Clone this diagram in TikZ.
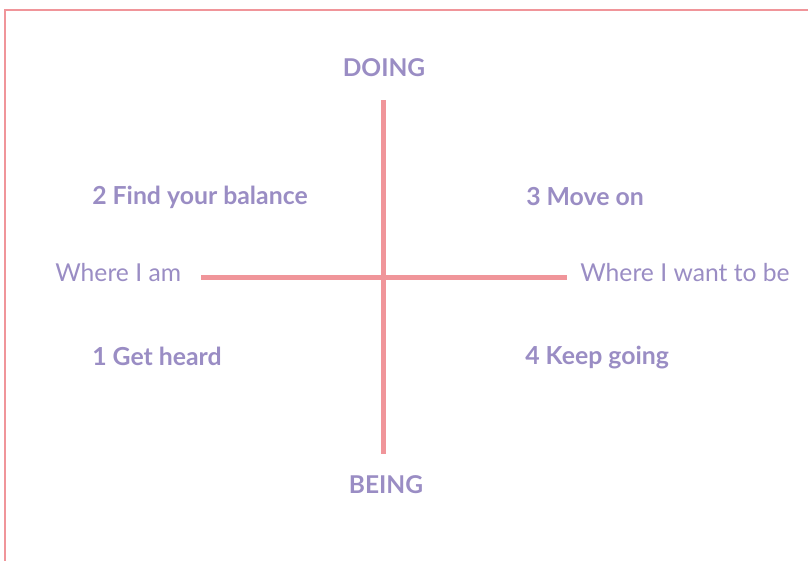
\documentclass[tikz,border=0pt]{standalone}
\usepackage{fontspec}
\setmainfont{Lato}
\definecolor{axispink}{HTML}{F0959A}
\definecolor{labelpurple}{HTML}{9A8DC4}
\begin{document}
\begin{tikzpicture}[x=0.75pt,y=-0.75pt,
  axis/.style={draw=axispink,line width=3.8pt},
  frame/.style={draw=axispink,line width=1.8pt},
  quad/.style={text=labelpurple,font=\fontsize{18.6}{20}\selectfont\bfseries,anchor=west,inner sep=0pt},
  pole/.style={text=labelpurple,font=\fontsize{18.4}{20}\selectfont\bfseries,inner sep=0pt},
  side/.style={text=labelpurple,font=\fontsize{18.5}{20}\selectfont,inner sep=0pt}]
\useasboundingbox (0,0) rectangle (808,561);
% open frame along the top and left edges
\draw[frame] (5,561) -- (5,10) -- (810,10);
% axis end points
\coordinate (top) at (383.5,100);
\coordinate (bottom) at (383.5,454);
\coordinate (left) at (201,277.5);
\coordinate (right) at (567,277.5);
\draw[axis] (top) -- (bottom);
\draw[axis] (left) -- (right);
% pole labels
\node[pole] (doing) at (384,68) {DOING};
\node[pole] (being) at (386,485) {BEING};
\node[side,anchor=west] (here) at (55,273) {Where I am};
\node[side,anchor=west] (there) at (580,273) {Where I want to be};
% quadrant labels
\node[quad] (q2) at (92,197) {2 Find your balance};
\node[quad] (q3) at (526,197) {3 Move on};
\node[quad] (q1) at (92,356) {1 Get heard};
\node[quad] (q4) at (525,358) {4 Keep going};
\end{tikzpicture}
\end{document}
